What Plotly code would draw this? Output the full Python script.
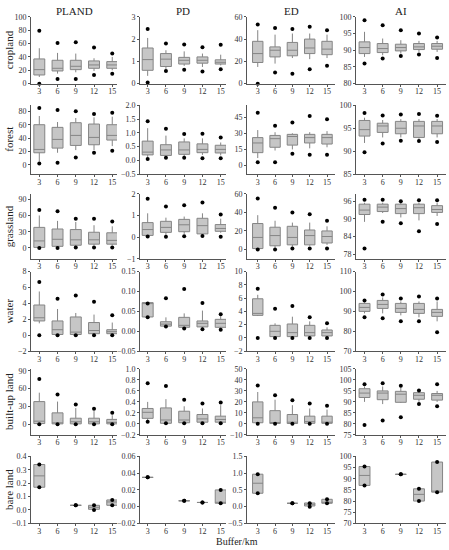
import plotly.graph_objects as go
from plotly.subplots import make_subplots

BUFFERS = ["3", "6", "9", "12", "15"]
LANDCOVER = ["cropland", "forest", "grassland", "water", "built-up land", "bare land"]
METRICS = ["PLAND", "PD", "ED", "AI"]

# one tuple per buffer: (low dot, low whisker, q1, median, q3, high whisker, high dot)
# None means no patches of that class in the buffer
cropland = {
    "PLAND": [(0, 10, 13, 21, 37, 53, 79), (7, 15, 19, 23, 35, 46, 61), (7, 17, 21, 26, 35, 45, 62),
              (13, 19, 23, 28, 34, 38, 54), (15, 20, 23, 28, 33, 40, 45)],
    "PD": [(0.05, 0.35, 0.6, 1.08, 1.6, 2.05, 2.45), (0.57, 0.65, 0.77, 1.1, 1.35, 1.5, 1.8),
           (0.62, 0.8, 0.88, 1.05, 1.18, 1.45, 1.76), (0.55, 0.75, 0.92, 1.05, 1.2, 1.35, 1.63),
           (0.65, 0.82, 0.88, 0.96, 1.07, 1.3, 1.75)],
    "ED": [(0, 15, 19, 27, 38, 48, 53), (10, 18, 24, 30, 33, 44, 50), (9, 23, 25, 30, 37, 45, 49),
           (13, 22, 27, 32, 40, 45, 51), (16, 23, 26, 31, 38, 44, 48)],
    "AI": [(86, 88, 89, 90.8, 92.5, 95.5, 99), (87.5, 88.5, 89.3, 90.5, 92, 93.5, 97.5),
           (88.3, 89, 89.8, 90.8, 91.8, 93, 96), (88.7, 89.5, 90.2, 91, 92, 92.8, 95),
           (87.7, 89.5, 90.3, 91.2, 92, 92.8, 93.8)],
}
forest = {
    "PLAND": [(2, 5, 18, 23, 60, 73, 85), (3, 18, 25, 38, 56, 64, 82), (11, 22, 29, 44, 63, 70, 80),
              (18, 22, 30, 41, 61, 71, 76), (21, 28, 37, 44, 60, 72, 78)],
    "PD": [(0.05, 0.12, 0.2, 0.3, 0.7, 1.17, 1.42), (0.1, 0.12, 0.18, 0.38, 0.57, 0.9, 1.15),
           (0.1, 0.15, 0.22, 0.38, 0.67, 0.8, 0.96), (0.08, 0.2, 0.28, 0.4, 0.6, 0.8, 0.97),
           (0.08, 0.18, 0.27, 0.4, 0.55, 0.65, 0.83)],
    "ED": [(3, 7, 12, 21, 26, 33, 49), (3, 14, 17, 25, 28, 31, 37), (11, 15, 19, 27, 29, 30, 40),
           (10, 16, 21, 26, 29, 31, 46), (10, 17, 20, 26, 29, 32, 43)],
    "AI": [(89.8, 91.8, 93.3, 94.7, 96.7, 97.3, 98.3), (91.7, 93, 94.1, 95.5, 96.1, 96.8, 97.8),
           (92.3, 93, 93.8, 95, 96.5, 97, 98), (92.2, 92.7, 93, 95.5, 96.5, 97, 98.1),
           (92, 93, 93.8, 95.5, 96.5, 97, 97.7)],
}
grassland = {
    "PLAND": [(0, 0, 1, 13, 38, 60, 70), (0, 2, 3, 16, 35, 50, 68), (1, 3, 5, 15, 34, 48, 54),
              (1, 5, 7, 15, 29, 42, 54), (1, 5, 7, 14, 28, 40, 49)],
    "PD": [(0.03, 0.05, 0.08, 0.35, 0.67, 1.1, 1.77), (0.02, 0.1, 0.22, 0.45, 0.73, 0.9, 1.42),
           (0.04, 0.15, 0.25, 0.57, 0.82, 0.95, 1.47), (0.05, 0.1, 0.15, 0.53, 0.87, 1.1, 1.6),
           (0.02, 0.2, 0.27, 0.4, 0.58, 0.85, 1.05)],
    "ED": [(0, 0, 1, 13, 28, 37, 55), (0, 2, 4, 15, 24, 31, 45), (1, 3, 5, 13, 25, 29, 40),
           (1, 4, 5, 15, 21, 29, 38), (1, 5, 7, 14, 20, 25, 31)],
    "AI": [(80, 89, 91.5, 93, 95, 95.5, 96.5), (89, 92, 92.5, 94, 95, 95.5, 96.5),
           (88.5, 90.5, 91.8, 93.5, 95, 95.5, 96), (85.8, 89.5, 91.8, 93.8, 95, 95.5, 96.3),
           (88.3, 91, 92.2, 93.2, 94.5, 95.5, 96.3)],
}
water = {
    "PLAND": [(0, 1.5, 1.8, 2.2, 3.8, 5.5, 6.7), (0, 0, 0.1, 0.7, 1.8, 3.3, 4.6), (0, 0, 0.1, 0.4, 2.3, 2.8, 5),
              (0, 0.1, 0.2, 0.6, 1.6, 2.6, 4.2), (0, 0.1, 0.2, 0.45, 0.7, 1.6, 2.5)],
    "PD": [(0.035, 0.036, 0.036, 0.07, 0.072, 0.072, 0.07), (0.012, 0.012, 0.013, 0.018, 0.024, 0.035, 0.083),
           (0.007, 0.008, 0.01, 0.015, 0.035, 0.045, 0.106), (0.005, 0.008, 0.011, 0.02, 0.026, 0.052, 0.071),
           (0.004, 0.007, 0.01, 0.02, 0.03, 0.038, 0.043)],
    "ED": [(0, 3.3, 3.4, 3.7, 5.9, 6.5, 7.4), (0, 0, 0.2, 1.0, 1.9, 2.2, 4.4), (0, 0, 0.2, 0.8, 2.1, 3.2, 4.8),
           (0, 0.1, 0.3, 0.8, 1.9, 2.5, 3.1), (0, 0.1, 0.3, 0.8, 1.2, 1.6, 2.2)],
    "AI": [(87, 89, 90, 92, 94, 94.5, 95.5), (86.5, 89, 91.5, 93.5, 95.5, 97, 98.5),
           (85, 88, 89.5, 91.5, 94, 95, 96.5), (85, 87, 89, 91, 94, 95, 97.5),
           (79.5, 85, 87.5, 89.5, 91, 95, 96.5)],
}
builtup = {
    "PLAND": [(0, 0, 1, 5, 38, 53, 76), (0, 0, 0.5, 2, 19, 38, 50), (0, 0, 0.5, 4, 10, 27, 33),
              (0, 0, 0.5, 4, 10, 22, 26), (0, 0, 0.5, 3, 8, 15, 19)],
    "PD": [(0.04, 0.05, 0.1, 0.21, 0.28, 0.4, 0.74), (0.01, 0.01, 0.01, 0.07, 0.29, 0.45, 0.69),
           (0.01, 0.01, 0.02, 0.07, 0.23, 0.32, 0.44), (0.01, 0.01, 0.03, 0.09, 0.17, 0.28, 0.37),
           (0.01, 0.01, 0.03, 0.08, 0.14, 0.34, 0.39)],
    "ED": [(0, 0.5, 1, 5.5, 20, 29, 35), (0, 0, 0.3, 1, 12, 22, 26), (0, 0, 0.3, 1.5, 8.5, 17, 21.5),
           (0, 0, 0.5, 2, 7, 14, 18.5), (0, 0, 0.5, 1.5, 7, 13, 16.5)],
    "AI": [(79.5, 90, 92, 94, 96, 97, 98), (81.5, 89, 91, 94, 95, 97, 98.5),
           (83, 89.5, 89.8, 93.5, 94.8, 96.5, 97.3), (89, 90, 91.2, 93, 94.2, 94.5, 95.2),
           (88, 90, 90.8, 93, 93.8, 95, 98)],
}
bareland = {
    "PLAND": [(0.17, 0.17, 0.17, 0.255, 0.34, 0.34, 0.34), None, (0.035, 0.035, 0.035, 0.035, 0.035, 0.035, 0.035),
              (0.0, 0.005, 0.005, 0.02, 0.035, 0.035, 0.035), (0.035, 0.035, 0.035, 0.06, 0.075, 0.075, 0.075)],
    "PD": [(0.035, 0.035, 0.035, 0.035, 0.035, 0.035, 0.035), None, (0.007, 0.007, 0.007, 0.007, 0.007, 0.007, 0.007),
           (0.005, 0.005, 0.005, 0.005, 0.005, 0.005, 0.005), (0.004, 0.004, 0.004, 0.004, 0.02, 0.02, 0.02)],
    "ED": [(0.4, 0.4, 0.4, 0.7, 0.97, 0.97, 0.97), None, (0.1, 0.1, 0.1, 0.1, 0.1, 0.1, 0.1),
           (0.0, 0.02, 0.02, 0.07, 0.11, 0.11, 0.1), (0.1, 0.1, 0.1, 0.13, 0.22, 0.22, 0.22)],
    "AI": [(87, 87, 87, 91.5, 95.5, 95.5, 95.5), None, (92, 92, 92, 92, 92, 92, 92),
           (80, 80, 80, 83, 85.5, 85.5, 85.5), (84, 84, 84, 84, 97.5, 97.5, 97.5)],
}
ROW_DATA = [cropland, forest, grassland, water, builtup, bareland]

# y axis setup per panel: (range, dtick, tick0, format)
Y_AXES = [
    [([0, 100], 20, 0, ""), ([0, 3], 1, 0, ""), ([0, 60], 20, 0, ""), ([80, 100], 5, 80, "")],
    [([-14, 89], 20, 0, ""), ([-0.5, 2.0], 0.5, 0, ".1f"), ([-8, 56], 15, 0, ""), ([85, 100], 5, 85, "")],
    [([-20, 100], 30, 0, ""), ([-1, 2], 1, 0, ""), ([-10, 60], 20, 0, ""), ([76.5, 98.5], 6, 78, "")],
    [([-2, 8], 2, 0, ""), ([-0.05, 0.15], 0.05, 0, ".2f"), ([-2, 10], 2, 0, ""), ([70, 110], 10, 70, "")],
    [([-18, 93], 30, 0, ""), ([-0.2, 1.0], 0.2, 0, ".1f"), ([-10, 50], 10, 0, ""), ([75, 105], 5, 75, "")],
    [([-0.1, 0.4], 0.1, 0, ".1f"), ([-0.02, 0.06], 0.02, 0, ".2f"), ([-0.5, 1.5], 0.5, 0, ".1f"), ([70, 100], 5, 70, "")],
]

W, H = 449, 550
COL_PX = [(31, 117), (140, 226), (247, 335), (356, 446)]
ROW_PX = [(13, 81), (103, 173), (193, 259), (272, 353), (371, 438), (460, 528)]
X_RANGES = [[-0.455, 4.26], [-0.42, 4.29], [-0.62, 4.46], [-0.47, 4.49]]

FONT = "Liberation Serif, Times New Roman, serif"
BOX_FILL = "#c6c6c6"
BOX_LINE = "#858585"
AXIS_COL = "#555555"

fig = make_subplots(rows=6, cols=4)

for r, rowdata in enumerate(ROW_DATA):
    for c, metric in enumerate(METRICS):
        stats = rowdata[metric]
        pos = [i for i, s in enumerate(stats) if s is not None]
        vals = [s for s in stats if s is not None]
        fig.add_trace(go.Box(
            x=pos,
            lowerfence=[v[1] for v in vals],
            q1=[v[2] for v in vals],
            median=[v[3] for v in vals],
            q3=[v[4] for v in vals],
            upperfence=[v[5] for v in vals],
            width=0.6,
            whiskerwidth=0,
            fillcolor=BOX_FILL,
            line=dict(color=BOX_LINE, width=1),
            boxpoints=False,
            showlegend=False,
            hoverinfo="skip",
        ), row=r + 1, col=c + 1)
        fig.add_trace(go.Scatter(
            x=pos + pos,
            y=[v[0] for v in vals] + [v[6] for v in vals],
            mode="markers",
            marker=dict(color="black", size=4),
            cliponaxis=False,
            showlegend=False,
            hoverinfo="skip",
        ), row=r + 1, col=c + 1)

        rng, dt, t0, fmt = Y_AXES[r][c]
        x0, x1 = COL_PX[c]
        y0, y1 = ROW_PX[r]
        fig.update_xaxes(
            domain=[x0 / W, x1 / W], range=X_RANGES[c],
            tickvals=list(range(len(BUFFERS))), ticktext=BUFFERS,
            showline=True, linecolor=AXIS_COL, linewidth=1,
            ticks="outside", ticklen=2, tickcolor=AXIS_COL,
            ticklabelstandoff=-2,
            showgrid=False, zeroline=False,
            row=r + 1, col=c + 1)
        fig.update_yaxes(
            domain=[1 - y1 / H, 1 - y0 / H], range=rng,
            dtick=dt, tick0=t0, tickformat=fmt,
            showline=True, linecolor=AXIS_COL, linewidth=1,
            ticks="outside", ticklen=2, tickcolor=AXIS_COL,
            showgrid=False, zeroline=False,
            row=r + 1, col=c + 1)

# column titles
for c, metric in enumerate(METRICS):
    fig.add_annotation(text=metric, x=(COL_PX[c][0] + COL_PX[c][1]) / 2 / W, y=1 - 7 / H,
                       xref="paper", yref="paper", showarrow=False,
                       xanchor="center", yanchor="middle",
                       font=dict(size=11, color="#222"))
# row labels
for r, name in enumerate(LANDCOVER):
    fig.add_annotation(text=name, x=9 / W, y=1 - (ROW_PX[r][0] + ROW_PX[r][1]) / 2 / H,
                       xref="paper", yref="paper", showarrow=False, textangle=-90,
                       xanchor="center", yanchor="middle",
                       font=dict(size=11, color="#222"))
fig.add_annotation(text="Buffer/km", x=237 / W, y=1 - 546 / H, xref="paper", yref="paper",
                   showarrow=False, xanchor="center", yanchor="middle",
                   font=dict(size=10, color="#222"))

fig.update_layout(
    width=W, height=H,
    margin=dict(l=0, r=0, t=0, b=0),
    paper_bgcolor="white", plot_bgcolor="white",
    font=dict(family=FONT, size=8, color="#333"),
)

# page body has a default 8px margin, drop it so the figure sits at 0,0
fig.write_html("out.html", config={"displayModeBar": False},
               post_script="document.body.style.margin='0';")
